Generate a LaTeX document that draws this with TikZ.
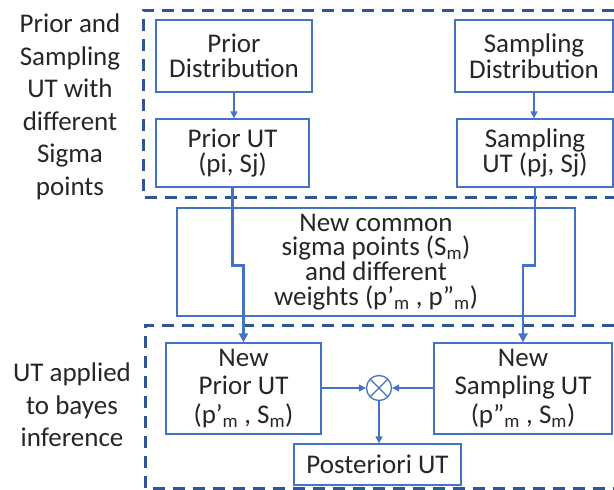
\documentclass[tikz,border=0pt]{standalone}
\usepackage{fontspec}
\setmainfont{Carlito}
\usetikzlibrary{arrows.meta}
\definecolor{boxblue}{HTML}{4472C4}
\definecolor{dashblue}{HTML}{2F5597}
\definecolor{txtgray}{HTML}{262626}
\tikzset{
  blk/.style={draw=boxblue, line width=1.3pt, align=center, text=txtgray,
    inner sep=0pt, font={\fontsize{27}{25.5}\selectfont}},
  lbl/.style={align=center, text=txtgray, font={\fontsize{27}{32.5}\selectfont}},
  frame/.style={draw=dashblue, line width=3pt, dash pattern=on 12pt off 8pt},
  thinarrow/.style={draw=boxblue, line width=1.3pt, -{Triangle[length=7pt,width=7pt]}},
  thickarrow/.style={draw=boxblue, line width=2.8pt, -{Triangle[length=9pt,width=9pt]}},
}
\begin{document}
\begin{tikzpicture}[x=1pt,y=-1pt]
  \useasboundingbox (0,0) rectangle (614,490);
  % dashed frames
  \draw[frame] (614,10) -- (143,10) -- (143,197) -- (614,197);
  \draw[frame] (614,325) -- (145,325) -- (145,488) -- (614,488);
  % side labels
  \node[lbl] (lblprior) at (70,107) {Prior and\\Sampling\\UT with\\different\\Sigma\\points};
  \node[lbl] (lblbayes) at (72,405) {UT applied\\to bayes\\inference};
  % UT of prior and sampling
  \node[blk, minimum width=156, minimum height=72] (priordist) at (234,56) {Prior\\Distribution};
  \node[blk, minimum width=153, minimum height=68] (priorut) at (232.5,153) {Prior UT\\(pi, Sj)};
  \node[blk, minimum width=158, minimum height=72] (sampdist) at (534,56) {Sampling\\Distribution};
  \node[blk, minimum width=156, minimum height=68] (samput) at (535,153) {Sampling\\UT (pj, Sj)};
  % common sigma points
  \node[blk, minimum width=398, minimum height=108, font={\fontsize{27}{24.7}\selectfont}] (common) at (376,262)
    {New common\\sigma points (S\textsubscript{m})\\and different\\weights (p’\textsubscript{m} , p”\textsubscript{m})};
  % bayes
  \node[blk, minimum width=155, minimum height=91, font={\fontsize{27}{28.5}\selectfont}] (newprior) at (243.5,388.5)
    {New\\Prior UT\\(p’\textsubscript{m} , S\textsubscript{m})};
  \node[blk, minimum width=178, minimum height=91, font={\fontsize{27}{28.5}\selectfont}] (newsamp) at (523,388.5)
    {New\\Sampling UT\\(p”\textsubscript{m} , S\textsubscript{m})};
  \node[blk, minimum width=167, minimum height=41] (post) at (377.5,464.5) {Posteriori UT};
  \node[draw=boxblue, circle, line width=1.3pt, minimum size=25, inner sep=0pt,
    path picture={\draw[boxblue, line width=1.3pt]
      (path picture bounding box.north west) -- (path picture bounding box.south east)
      (path picture bounding box.north east) -- (path picture bounding box.south west);}]
    (mult) at (379,388) {};
  % connectors
  \draw[thinarrow] (priordist.south) -- (priordist.south |- priorut.north);
  \draw[thinarrow] (sampdist.south) -- (sampdist.south |- samput.north);
  \draw[thickarrow] (priorut.south) -- ++(0,78) -| (newprior.north);
  \draw[thickarrow] (samput.south) -- ++(0,78) -| (newsamp.north);
  \draw[thinarrow] (newprior.east |- mult) -- (mult.west);
  \draw[thinarrow] (newsamp.west |- mult) -- (mult.east);
  \draw[thinarrow] (mult.south) -- (mult.south |- post.north);
\end{tikzpicture}
\end{document}
